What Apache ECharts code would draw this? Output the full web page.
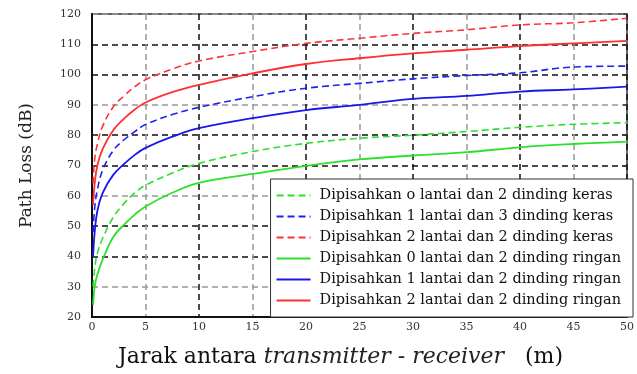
<!DOCTYPE html>
<html>
<head>
<meta charset="utf-8">
<script src="https://cdn.jsdelivr.net/npm/echarts@6/dist/echarts.min.js"></script>
<style>
  html, body { margin: 0; padding: 0; background: #fff; }
  #chart { width: 637px; height: 374px; }
</style>
</head>
<body>
<div id="chart"></div>
<script>
// Distance between transmitter and receiver (m)
const distances = [0.1, 0.25, 0.5, 1, 2, 3, 4, 5, 7.5, 10, 15, 20, 25, 30, 35, 40, 45, 50];

// Path loss (dB) per scenario
const keras0 = [30, 36, 41, 46, 53, 57.5, 61, 63.5, 67.5, 70.7, 74.6, 77.3, 79, 80, 81.2, 82.6, 83.6, 84.1];
const keras1 = [48, 56, 62, 68.5, 75, 78.5, 81.2, 83.5, 86.8, 89.2, 92.7, 95.5, 97.1, 98.6, 99.7, 100.6, 102.5, 102.8];
const keras2 = [64, 72, 77, 83, 89.4, 93, 96, 98.3, 101.8, 104.5, 107.6, 110.3, 112, 113.6, 114.8, 116.4, 117.1, 118.6];
const ringan0 = [24, 30, 34, 39, 46.5, 50.5, 53.8, 56.5, 61, 64.3, 67.2, 69.9, 72, 73.3, 74.4, 76, 77.1, 77.9];
const ringan1 = [40, 48, 55, 61, 67, 70.5, 73.5, 75.8, 79.5, 82.3, 85.6, 88.3, 90, 92, 93, 94.4, 95.1, 96];
const ringan2 = [57, 64, 70, 75.5, 81.7, 85.5, 88.5, 90.8, 94.2, 96.6, 100.4, 103.5, 105.4, 107, 108.2, 109.4, 110.3, 111.1];

const seriesNames = [
  'Dipisahkan o lantai dan 2 dinding keras',
  'Dipisahkan 1 lantai dan 3 dinding keras',
  'Dipisahkan 2 lantai dan 2 dinding keras',
  'Dipisahkan 0 lantai dan 2 dinding ringan',
  'Dipisahkan 1 lantai dan 2 dinding ringan',
  'Dipisahkan 2 lantai dan 2 dinding ringan'
];
const seriesValues = [keras0, keras1, keras2, ringan0, ringan1, ringan2];
const seriesColors = ['#2ee02e', '#2020f0', '#ff3535', '#2ee02e', '#1818e8', '#ff3030'];
const seriesDashed = [true, true, true, false, false, false];

const xTicks = { min: 0, max: 50, interval: 5 };
const yTicks = { min: 20, max: 120, interval: 10 };

const serif = 'DejaVu Serif';

const chart = echarts.init(document.getElementById('chart'), null, { renderer: 'canvas' });

const series = seriesNames.map((name, i) => ({
  name: name,
  type: 'line',
  smooth: 0.4,
  showSymbol: false,
  symbol: 'none',
  data: distances.map((d, j) => [d, seriesValues[i][j]]),
  lineStyle: {
    color: seriesColors[i],
    width: seriesDashed[i] ? 1.6 : 1.8,
    type: seriesDashed[i] ? [7, 4] : 'solid'
  },
  itemStyle: { color: seriesColors[i] },
  z: 3
}));

chart.setOption({
  animation: false,
  backgroundColor: '#fff',
  grid: {
    left: 92, right: 4, top: 14, bottom: 57,
    show: true, borderColor: '#333', borderWidth: 1.5
  },
  xAxis: {
    type: 'value',
    min: xTicks.min, max: xTicks.max, interval: xTicks.interval,
    name: '{a|Jarak antara }{b|transmitter - receiver}{a|   (m)}',
    nameLocation: 'middle',
    nameGap: 29,
    nameTextStyle: {
      padding: [0, 38, 0, 0],
      rich: {
        a: { fontFamily: serif, fontSize: 22, color: '#111' },
        b: { fontFamily: serif, fontSize: 22, fontStyle: 'italic', color: '#222' }
      }
    },
    axisLine: { lineStyle: { color: '#111', width: 2 } },
    axisTick: { show: false },
    axisLabel: { fontFamily: serif, fontSize: 11, color: '#333', margin: 5 },
    splitLine: {
      show: true,
      lineStyle: { color: ['#111', '#999'], type: [6, 4], width: 1.5 }
    }
  },
  yAxis: [{
    type: 'value',
    min: yTicks.min, max: yTicks.max, interval: yTicks.interval,
    name: 'Path Loss (dB)',
    nameLocation: 'middle',
    nameGap: 57,
    nameRotate: 90,
    nameTextStyle: { fontFamily: serif, fontSize: 17, color: '#222' },
    axisLine: { show: true, lineStyle: { color: '#111', width: 2 } },
    axisTick: { show: false },
    axisLabel: { fontFamily: serif, fontSize: 11, color: '#333', margin: 11 },
    splitLine: {
      show: true,
      lineStyle: { color: ['#111', '#999', '#111'], type: [6, 4], width: 1.5 }
    }
  }, {
    type: 'value',
    position: 'right',
    min: yTicks.min, max: yTicks.max, interval: yTicks.interval,
    axisLine: { show: false },
    axisTick: { show: true, inside: true, length: 4, lineStyle: { color: '#333', width: 1.5 } },
    axisLabel: { show: false },
    splitLine: { show: false }
  }],
  legend: {
    orient: 'vertical',
    right: 4,
    bottom: 57,
    backgroundColor: '#fff',
    borderColor: '#333',
    borderWidth: 1,
    padding: [9, 12, 9, 5],
    itemWidth: 34,
    itemHeight: 14,
    itemGap: 6,
    z: 4,
    itemStyle: { opacity: 0 },
    textStyle: { fontFamily: serif, fontSize: 14.5, color: '#111', padding: [0, 0, 0, 4] },
    data: seriesNames
  },
  series: series
});
</script>
</body>
</html>
